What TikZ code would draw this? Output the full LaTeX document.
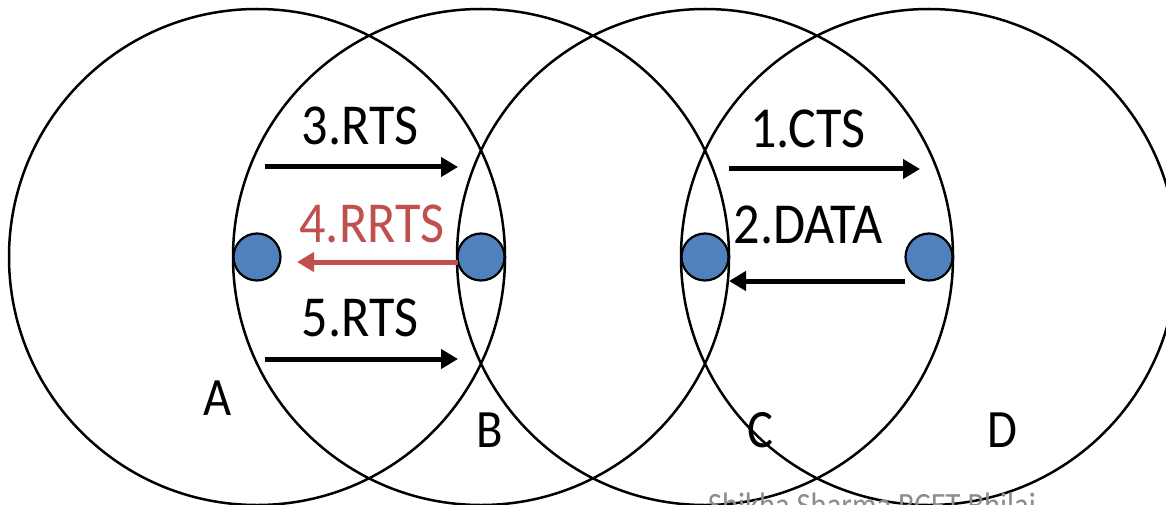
\documentclass[tikz,border=0pt]{standalone}
\usepackage{fontspec}
\setmainfont{Carlito}[FakeStretch=0.9]
\usetikzlibrary{arrows.meta}
\definecolor{dotblue}{RGB}{79,129,189}
\definecolor{rrtsred}{RGB}{192,80,77}
\tikzset{
  cover/.style={line width=2.5pt},
  station/.style={circle, draw, line width=2.2pt, fill=dotblue, minimum size=47pt, inner sep=0pt},
  msg/.style={line width=5pt, ->},
  lbl/.style={anchor=base, inner sep=0pt, font=\fontsize{58}{60}\selectfont},
  stnlbl/.style={anchor=base, inner sep=0pt, font=\fontsize{54}{56}\selectfont}
}
\begin{document}
\begin{tikzpicture}[>={Triangle[length=17pt,width=19pt]}, x=1pt, y=-1pt]
\useasboundingbox (0,0) rectangle (1166,505);
\clip (0,0) rectangle (1166,505);
% stations
\node[station] (a) at (257,257) {};
\node[station] (b) at (481,257) {};
\node[station] (c) at (705,257) {};
\node[station] (d) at (929,257) {};
% coverage circles
\draw[cover] (a) circle[radius=248pt] (b) circle[radius=248pt]
  (c) circle[radius=248pt] (d) circle[radius=248pt];
% station names
\node[stnlbl] (na) at (218,415) {A};
\node[stnlbl] (nb) at (490,447) {B};
\node[stnlbl] (nc) at (760,447) {C};
\node[stnlbl] (nd) at (1002,447) {D};
% messages
\coordinate (rts3s) at (265,167);
\coordinate (rts3e) at (458,167);
\coordinate (rrts4s) at (458,262);
\coordinate (rrts4e) at (297,262);
\coordinate (rts5s) at (265,359);
\coordinate (rts5e) at (458,359);
\coordinate (cts1s) at (729,169);
\coordinate (cts1e) at (920,169);
\coordinate (data2s) at (905,281);
\coordinate (data2e) at (729,281);
\draw[msg] (rts3s) -- (rts3e);
\draw[msg, rrtsred] (rrts4s) -- (rrts4e);
\draw[msg] (rts5s) -- (rts5e);
\draw[msg] (cts1s) -- (cts1e);
\draw[msg] (data2s) -- (data2e);
\node[lbl] (l3) at (360,145) {3.RTS};
\node[lbl, text=rrtsred] (l4) at (372,242) {4.RRTS};
\node[lbl] (l5) at (360,336) {5.RTS};
\node[lbl] (l1) at (808,148) {1.CTS};
\node[lbl] (l2) at (808,243) {2.DATA};
% credit
\node[anchor=base, inner sep=0pt, text=black!45, font=\fontsize{34}{36}\selectfont] (credit) at (872,516) {Shikha Sharma RCET Bhilai};
\end{tikzpicture}
\end{document}
